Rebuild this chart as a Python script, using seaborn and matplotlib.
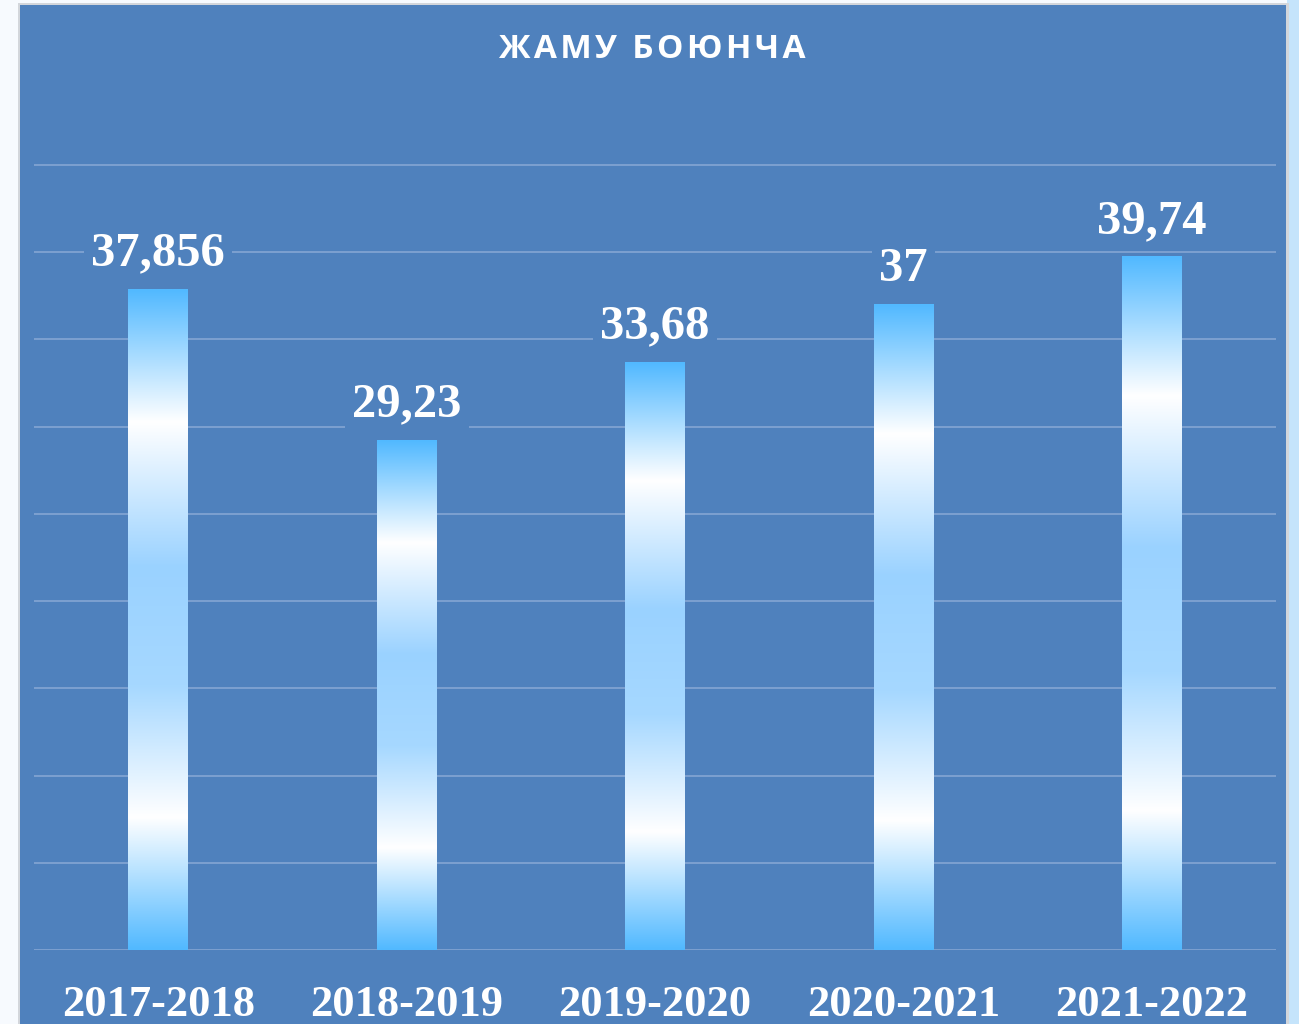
import numpy as np
import matplotlib
matplotlib.use("Agg")
import matplotlib.pyplot as plt
import seaborn as sns
from matplotlib.colors import LinearSegmentedColormap
from matplotlib.patches import Rectangle

periods = ["2017-2018", "2018-2019", "2019-2020", "2020-2021", "2021-2022"]
values = [37.856, 29.23, 33.68, 37, 39.74]
value_labels = ["37,856", "29,23", "33,68", "37", "39,74"]
title = "ЖАМУ БОЮНЧА"

panel = "#4F81BD"
grid_col = "#7DA0D0"

sns.set_theme(style="white")
plt.rcParams["font.family"] = ["Liberation Serif", "DejaVu Serif"]

W, H = 1299, 1024
fig = plt.figure(figsize=(W / 100, H / 100), dpi=100)
fig.patch.set_facecolor("#F7FAFE")

# side strips and the blue panel
fig.add_artist(Rectangle((1287 / W, 0), 12 / W, 1, transform=fig.transFigure,
                         facecolor="#C5E4FB", edgecolor="none", zorder=0))
fig.add_artist(Rectangle((18 / W, 0), (1289 - 18) / W, 1 - 3 / H, transform=fig.transFigure,
                         facecolor="#D3D6DB", edgecolor="none", zorder=0))
fig.add_artist(Rectangle((20 / W, 0), (1286 - 20) / W, 1 - 5 / H, transform=fig.transFigure,
                         facecolor=panel, edgecolor="none", zorder=0))

ymax = 48
px_per_unit = (950 - 165) / 45
ax_bottom = (H - 950) / H
ax_height = ymax * px_per_unit / H
ax = fig.add_axes([34 / W, ax_bottom, 1242 / W, ax_height])
ax.set_facecolor("none")

sns.barplot(x=periods, y=values, width=0.24, ax=ax, color="#55BBFF", zorder=3)

grad = LinearSegmentedColormap.from_list(
    "bar", [(0.0, "#52B9FF"), (0.2, "#FFFFFF"), (0.42, "#9AD2FF"),
            (0.6, "#A6D8FF"), (0.8, "#FFFFFF"), (1.0, "#52B9FF")])
g = np.linspace(0, 1, 256).reshape(-1, 1)
for p in ax.patches:
    x0, y0 = p.get_x(), p.get_y()
    w, h = p.get_width(), p.get_height()
    p.set_facecolor("none")
    p.set_edgecolor("none")
    ax.imshow(g, cmap=grad, extent=[x0, x0 + w, y0, y0 + h], aspect="auto",
              zorder=3, interpolation="bilinear")

ax.set_xlim(-0.5, len(periods) - 0.5)
ax.set_ylim(0, ymax)
ax.set_yticks(np.arange(0, 46, 5))
ax.yaxis.grid(True, color=grid_col, linewidth=1.4, zorder=1)
ax.set_axisbelow(True)
for s in ax.spines.values():
    s.set_visible(False)
ax.tick_params(axis="y", left=False, labelleft=False)
ax.tick_params(axis="x", length=0, pad=25, labelsize=32, labelcolor="white")
for t in ax.get_xticklabels():
    t.set_fontweight("bold")
ax.set_xlabel("")
ax.set_ylabel("")

for i, (v, lab) in enumerate(zip(values, value_labels)):
    ax.annotate(lab, (i, v), xytext=(0, 10), textcoords="offset points",
                ha="center", va="bottom", fontsize=35, fontweight="bold", color="white",
                bbox=dict(boxstyle="square,pad=0.15", facecolor=panel, edgecolor="none"),
                zorder=4)

# title with a little letter spacing (hair spaces)
spaced = "\u200a".join(title)
fig.text(652 / W, 1 - 49 / H, spaced, ha="center", va="center", color="white",
         fontsize=24, fontweight="bold", family=["Open Sans", "DejaVu Sans"])

fig.savefig("out.png", dpi=100)
